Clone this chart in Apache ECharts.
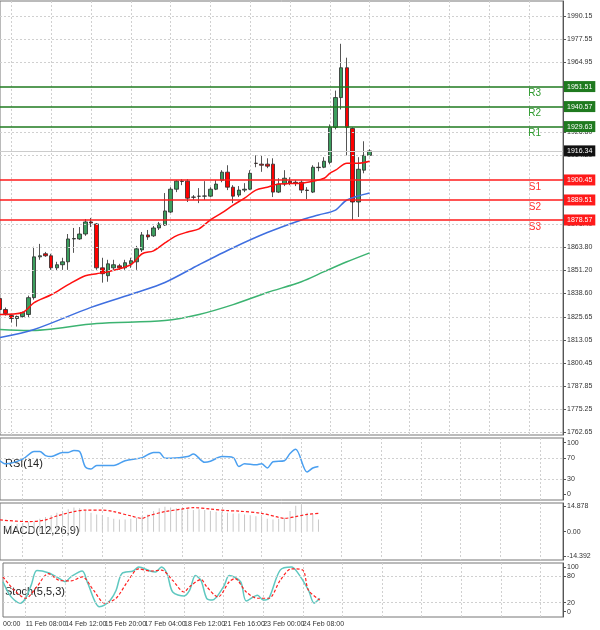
<!DOCTYPE html>
<html>
<head>
<meta charset="utf-8">
<script src="https://cdn.jsdelivr.net/npm/echarts@6/dist/echarts.min.js"></script>
<style>html,body{margin:0;padding:0;background:#fff}#chart{width:600px;height:630px}</style>
</head>
<body>
<div id="chart"></div>
<script>
// 4H candles
var opens = [1835.6,1829.6,1826.3,1824.7,1825.8,1826.9,1836.1,1858.4,1860.1,1859.0,1852.4,1854.1,1855.7,1868.2,1868.2,1870.9,1877.5,1876.4,1852.4,1848.1,1852.4,1853.5,1852.4,1854.6,1855.7,1862.2,1870.4,1869.9,1874.2,1875.8,1882.9,1895.4,1899.8,1899.8,1891.1,1891.6,1891.6,1891.6,1895.4,1900.3,1904.7,1896.5,1892.2,1894.9,1895.4,1909.6,1909.1,1909.1,1909.1,1893.8,1898.2,1899.8,1899.2,1899.2,1894.9,1893.8,1907.4,1907.4,1910.1,1929.2,1945.5,1961.8,1928.6,1888.4,1905.8,1913.9];
var closes = [1829.6,1827.4,1824.7,1825.8,1828.0,1836.1,1858.4,1859.0,1859.0,1852.4,1854.1,1855.7,1868.2,1868.4,1870.9,1877.5,1876.9,1852.4,1849.2,1854.6,1854.1,1852.4,1855.2,1856.3,1862.8,1870.4,1869.3,1874.2,1876.4,1883.5,1895.4,1899.8,1899.6,1890.5,1891.0,1891.5,1891.7,1895.4,1898.2,1904.7,1896.5,1891.6,1894.9,1895.4,1904.1,1909.5,1908.5,1908.0,1893.8,1898.2,1901.4,1898.7,1898.7,1894.9,1894.7,1907.4,1907.2,1910.7,1929.2,1945.5,1961.8,1929.2,1888.4,1906.3,1913.9,1916.34];
var lows = [1828.5,1826.3,1822.5,1820.3,1825.2,1825.2,1835.0,1856.8,1858.4,1851.3,1850.8,1851.3,1851.3,1860.6,1867.7,1869.9,1874.7,1851.3,1844.3,1844.8,1851.3,1851.3,1851.3,1852.4,1851.3,1861.1,1867.7,1869.3,1873.1,1875.3,1882.4,1893.8,1897.6,1888.4,1889.5,1887.8,1889.5,1891.1,1894.9,1899.2,1894.9,1887.8,1891.1,1893.8,1894.9,1907.4,1904.9,1906.9,1891.1,1893.3,1897.1,1897.6,1897.1,1893.3,1890.0,1893.3,1905.2,1906.9,1909.0,1928.1,1939.0,1913.9,1878.6,1880.2,1904.1,1913.4];
var highs = [1842.1,1830.7,1826.9,1826.3,1828.5,1837.2,1863.9,1865.5,1861.1,1860.1,1855.7,1857.9,1870.9,1874.2,1874.7,1879.1,1879.7,1876.9,1857.9,1856.8,1856.8,1854.6,1856.8,1857.9,1864.4,1872.0,1873.1,1875.3,1877.5,1893.3,1896.5,1900.3,1900.9,1900.9,1892.2,1896.0,1899.8,1896.5,1900.3,1905.8,1908.5,1897.6,1897.1,1898.7,1905.8,1913.9,1913.9,1912.3,1912.3,1901.4,1905.8,1901.9,1900.3,1900.3,1896.5,1908.5,1910.1,1912.9,1930.8,1949.3,1974.9,1967.3,1929.2,1912.9,1921.6,1917.2];

// moving averages [bar, value]
var maFast = [[0,1826.9],[4,1828.0],[6,1833.4],[9,1837.7],[12,1843.2],[15,1848.1],[17,1849.2],[19,1850.3],[23,1854.1],[25,1860.1],[27,1861.7],[29,1866.0],[31,1869.9],[33,1872.0],[35,1873.7],[37,1878.6],[39,1882.4],[41,1886.7],[43,1890.5],[45,1894.9],[47,1896.5],[49,1898.2],[53,1898.7],[55,1899.8],[57,1901.4],[58,1904.1],[59,1905.8],[61,1909.6],[63,1909.6],[65,1910.7]];
var maMid = [[0,1814.3],[6,1818.7],[16,1830.8],[24,1838.9],[29,1844.4],[35,1854.1],[41,1863.4],[47,1871.7],[53,1878.6],[56,1881.3],[59,1884.0],[61,1889.5],[65,1893.3]];
var maSlow = [[0,1818.7],[5,1818.1],[17,1822.0],[29,1823.6],[35,1826.9],[41,1832.3],[47,1838.9],[53,1844.8],[57,1850.3],[61,1855.7],[65,1860.6]];

var pivotNames = ['R3','R2','R1','S1','S2','S3'];
var pivotValues = [1951.51,1940.57,1929.63,1900.45,1889.51,1878.57];
var lastPrice = 1916.34;
var priceTicks = [1990.15,1977.55,1964.95,1926.80,1914.20,1876.40,1863.80,1851.20,1838.60,1825.65,1813.05,1800.45,1787.85,1775.25,1762.65];

// lower panes
var rsi = [[0,65],[1,59],[4,68],[6,83],[7,83],[8,75],[9,73],[11,81],[12,81],[13,85],[14,83],[15,53],[16,49],[17,56],[20,56],[22,65],[25,71],[27,81],[28,81],[29,70],[30,70],[33,73],[34,78],[36,62],[37,64],[39,73],[41,71],[42,54],[43,59],[45,57],[46,59],[47,51],[48,63],[50,65],[51,79],[52,87],[54,43],[55,51],[56,54]];
var macdHist = [3,3.5,4,4.5,5,5.5,6,7.5,8.5,9.5,11,12,13,14,13.5,12,11,10,9.5,8.5,7.5,7,7,7.5,8,9,10,12,13.5,14.5,14,13.5,13,13,12.5,13,12.5,12,11.5,11.5,11,10.5,10.5,10,9.5,9,8.5,7.5,7,7.5,8,12,15,15.5,11,10,7];
var macdSignal = [[0,6.8],[5,5.8],[8,6.8],[10,9.1],[13,11.6],[15,12.5],[18,12.5],[20,11.6],[23,9.1],[25,7.7],[26,9.1],[29,11.6],[32,13.1],[34,13.9],[37,13.1],[40,12.2],[42,11.9],[46,10.6],[49,8.3],[50,7.7],[52,8.7],[54,10.0],[56,10.6]];
var stochMain = [[0,67],[1,41],[2,26],[3,19],[4,30],[5,60],[6,92],[8,87],[10,74],[11,67],[12,78],[14,91],[15,63],[17,11],[18,15],[19,26],[20,48],[21,85],[23,91],[24,100],[26,91],[27,89],[28,100],[29,85],[30,44],[32,35],[33,48],[34,81],[35,70],[36,30],[37,26],[39,56],[40,81],[42,67],[43,24],[45,37],[46,26],[47,30],[49,93],[51,100],[52,89],[54,48],[55,19],[56,30]];
var stochSignal = [[0,78],[2,48],[4,30],[6,56],[8,85],[10,70],[12,69],[14,78],[16,48],[18,19],[20,30],[22,67],[24,96],[26,91],[28,93],[30,70],[32,44],[33,56],[35,72],[36,56],[38,33],[40,67],[41,74],[43,44],[45,30],[47,30],[49,70],[51,96],[53,93],[54,48],[56,26]];
var timeLabels = ['00:00','11 Feb 08:00','14 Feb 12:00','15 Feb 20:00','17 Feb 04:00','18 Feb 12:00','21 Feb 16:00','23 Feb 00:00','24 Feb 08:00'];

var N = 100;
var mainCats = [], lowCats = [];
for (var i = 0; i < N; i++) {
	mainCats.push(String(i));
	lowCats.push(String(i));
}
// bar index -> time label
function timeLabel(i) {
	if (i === 0) return timeLabels[0];
	if (i % 7 === 4) { var k = (i - 4) / 7 + 1; return k < timeLabels.length ? timeLabels[k] : ''; }
	return '';
}
var candles = opens.map(function(o, k) { return [o, closes[k], lows[k], highs[k]]; });

var grey = '#d0d0d0';
var axisTxt = { fontSize: 7, color: '#333', fontFamily: 'Liberation Sans' };
var G = { left: 0, right: 37 };
function grid(top, h) { return { left: G.left, right: G.right, top: top, height: h, show: true, borderColor: '#777', borderWidth: 1, backgroundColor: '#fff' }; }
function xAx(idx, cats, showLab, splitFn) {
	return {
		type: 'category', gridIndex: idx, data: cats, boundaryGap: false,
		axisLine: { show: false }, axisTick: { show: false },
		axisLabel: showLab ? Object.assign({ show: true, align: 'left', margin: 4, interval: 0, hideOverlap: false,
			formatter: function(v, i) { return timeLabel(i); } }, axisTxt) : { show: false },
		splitLine: { show: true, interval: splitFn, lineStyle: { color: grey, type: [2, 2] } }
	};
}
function yAx(idx, min, max, ticks, fmt) {
	return {
		type: 'value', gridIndex: idx, position: 'right', min: min, max: max,
		axisLine: { show: true, lineStyle: { color: '#555' } },
		axisTick: { show: true, customValues: ticks, length: 3, lineStyle: { color: '#555' } },
		axisLabel: Object.assign({ customValues: ticks, margin: 4, formatter: fmt }, axisTxt),
		splitLine: { show: false }
	};
}

var pivotLines = [], pivotTags = [];
pivotValues.forEach(function(v, k) {
	var col = pivotNames[k][0] === 'R' ? '#1f7a1f' : '#ff1a1a';
	var txt = pivotNames[k][0] === 'R' ? '#2e9a2e' : '#ff3030';
	pivotLines.push({ yAxis: v, lineStyle: { color: col, width: 1.5, type: 'solid' },
		label: { show: true, position: 'end', distance: 1, formatter: v.toFixed(2), color: '#fff', backgroundColor: col, padding: [2, 3], fontSize: 7, fontFamily: 'Liberation Sans' } });
	pivotTags.push({ yAxis: v,
		label: { show: true, position: 'insideEndBottom', distance: [22, 2], formatter: pivotNames[k], color: txt, fontSize: 10, fontFamily: 'Liberation Sans' } });
});
pivotLines.push({ yAxis: lastPrice, lineStyle: { color: '#cccccc', width: 1, type: 'solid' },
	label: { show: true, position: 'end', distance: 1, formatter: lastPrice.toFixed(2), color: '#fff', backgroundColor: '#111', padding: [2, 3], fontSize: 7, fontFamily: 'Liberation Sans' } });

// horizontal dashed grid lines for the price pane
var priceGrid = priceTicks.map(function(v) { return { yAxis: v }; });

function line(xi, data, color, dashed) {
	return { type: 'line', xAxisIndex: xi, yAxisIndex: xi, data: data, symbol: 'none', connectNulls: true, smooth: 0.3, silent: true,
		lineStyle: { color: color, width: dashed ? 1.2 : 1.5, type: dashed ? [3, 2] : 'solid' } };
}

var myChart = echarts.init(document.getElementById('chart'));
var option = {
	animation: false,
	backgroundColor: '#fff',
	grid: [grid(1, 434), grid(438, 62), grid(503, 57), grid(563, 54)],
	xAxis: [
		xAx(0, mainCats, false, function(i) { return i % 7 === 2; }),
		xAx(1, lowCats, false, function(i) { return i % 7 === 4; }),
		xAx(2, lowCats, false, function(i) { return i % 7 === 4; }),
		xAx(3, lowCats, true, function(i) { return i % 7 === 4; })
	],
	yAxis: [
		yAx(0, 1761, 1998.3, priceTicks, function(v) { return v.toFixed(2); }),
		yAx(1, -11, 109, [100, 70, 30, 0], function(v) { return String(v); }),
		yAx(2, -16.4, 16.6, [14.878, 0, -14.392], function(v) { return v === 0 ? '0.00' : String(v); }),
		yAx(3, -12, 109, [100, 80, 20, 0], function(v) { return String(v); })
	],
	graphic: [
		{ type: 'text', left: 5, top: 458, style: { text: 'RSI(14)', fontSize: 11, fill: '#222', fontFamily: 'Liberation Sans' } },
		{ type: 'text', left: 3, top: 525, style: { text: 'MACD(12,26,9)', fontSize: 11, fill: '#222', fontFamily: 'Liberation Sans' } },
		{ type: 'text', left: 5, top: 586, style: { text: 'Stoch(5,5,3)', fontSize: 11, fill: '#222', fontFamily: 'Liberation Sans' } }
	],
	series: [
		{ type: 'line', xAxisIndex: 0, yAxisIndex: 0, data: [], silent: true,
		  markLine: { symbol: 'none', silent: true, label: { show: false }, lineStyle: { color: grey, type: [2, 2], width: 1 }, data: priceGrid } },
		{ type: 'line', xAxisIndex: 0, yAxisIndex: 0, data: [], silent: true,
		  markLine: { symbol: 'none', silent: true, lineStyle: { color: 'rgba(0,0,0,0)', width: 1 }, data: pivotTags } },
		line(0, maSlow, '#3cb371'),
		line(0, maMid, '#3f6fe0'),
		line(0, maFast, '#ff1010'),
		{ type: 'candlestick', xAxisIndex: 0, yAxisIndex: 0, data: candles, barWidth: 4,
		  itemStyle: { color: '#3c9e5e', color0: '#ff0000', borderColor: '#2a2a2a', borderColor0: '#2a2a2a', borderWidth: 0.8 },
		  markLine: { symbol: 'none', silent: true, data: pivotLines } },
		line(1, rsi, '#4a9ff0'),
		{ type: 'line', xAxisIndex: 1, yAxisIndex: 1, data: [], silent: true,
		  markLine: { symbol: 'none', silent: true, label: { show: false }, lineStyle: { color: grey, type: [2, 2], width: 1 }, data: [{ yAxis: 70 }, { yAxis: 30 }] } },
		{ type: 'bar', xAxisIndex: 2, yAxisIndex: 2, data: macdHist, barWidth: 1, itemStyle: { color: '#c8c8c8' }, silent: true },
		line(2, macdSignal, '#ff2020', true),
		{ type: 'line', xAxisIndex: 3, yAxisIndex: 3, data: [], silent: true,
		  markLine: { symbol: 'none', silent: true, label: { show: false }, lineStyle: { color: grey, type: [2, 2], width: 1 }, data: [{ yAxis: 80 }, { yAxis: 20 }] } },
		line(3, stochMain, '#5fc8c0'),
		line(3, stochSignal, '#ff2020', true)
	]
};
myChart.setOption(option);
</script>
</body>
</html>
